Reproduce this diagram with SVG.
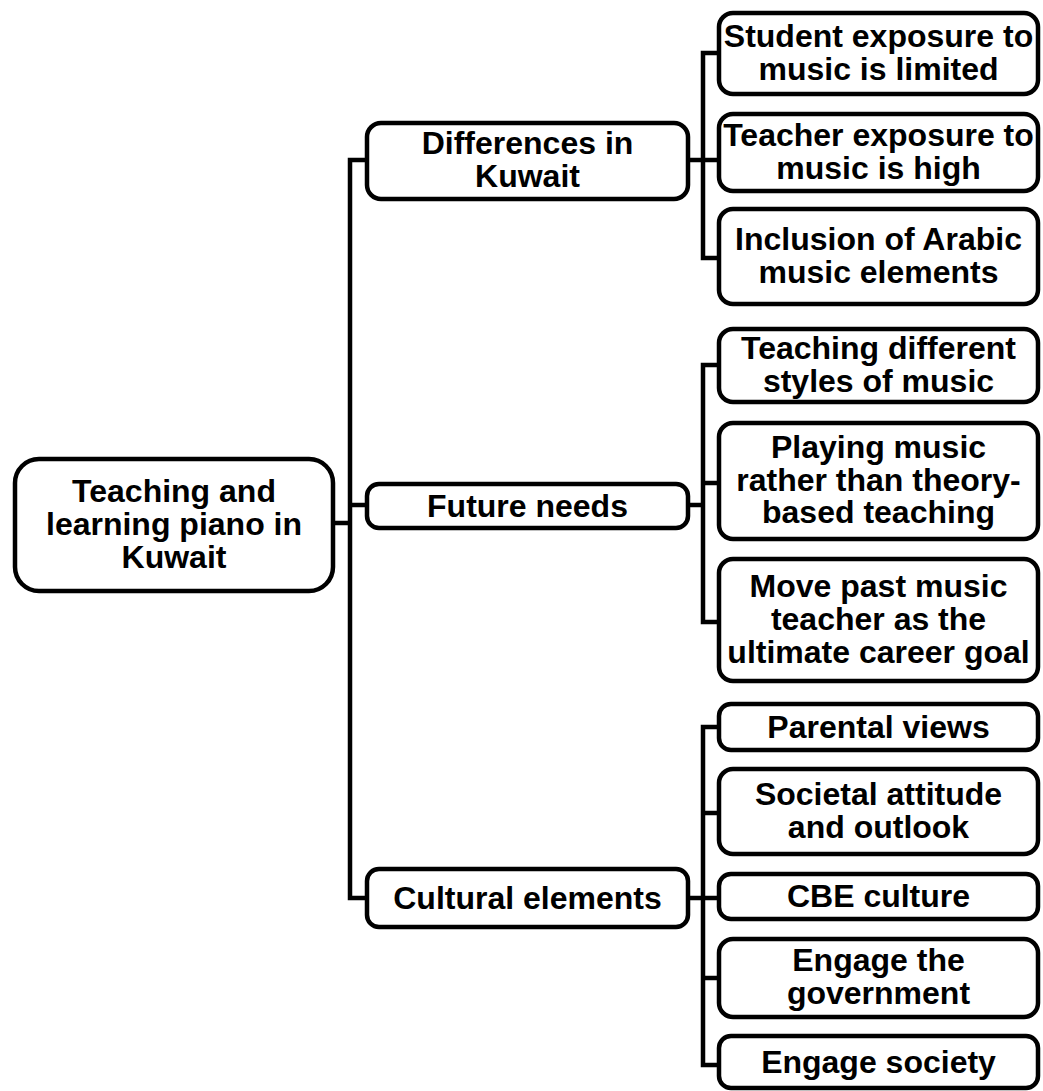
<svg xmlns="http://www.w3.org/2000/svg" width="1043" height="1091" viewBox="0 0 1043 1091">
  <style>
    .box { fill: #ffffff; stroke: #000000; stroke-width: 4.5; }
    .link { fill: none; stroke: #000000; stroke-width: 4.5; stroke-linejoin: miter; }
    text { font-family: "Liberation Sans", Arial, sans-serif; font-weight: bold; font-size: 32px; fill: #000000; text-anchor: middle; }
  </style>
  <rect width="1043" height="1091" fill="#ffffff"/>

  <!-- connectors -->
  <g id="connectors">
    <path class="link" d="M333 523 H350"/>
    <path class="link" d="M367 160 H350 V898 H367"/>
    <path class="link" d="M350 505 H367"/>

    <path class="link" d="M688 160 H719"/>
    <path class="link" d="M719 53 H703 V258 H719"/>

    <path class="link" d="M688 505 H703"/>
    <path class="link" d="M719 365 H703 V622 H719"/>
    <path class="link" d="M703 483 H719"/>

    <path class="link" d="M688 898 H719"/>
    <path class="link" d="M719 727 H703 V1065 H719"/>
    <path class="link" d="M703 813 H719"/>
    <path class="link" d="M703 978 H719"/>
  </g>

  <!-- root -->
  <g id="root">
    <rect class="box" x="15" y="459" width="318" height="132" rx="24"/>
    <text x="174" y="502">Teaching and</text>
    <text x="174" y="535">learning piano in</text>
    <text x="174" y="568">Kuwait</text>
  </g>

  <!-- first level -->
  <g id="differences">
    <rect class="box" x="367" y="123" width="321" height="76" rx="14"/>
    <text x="527.5" y="154">Differences in</text>
    <text x="527.5" y="187">Kuwait</text>
  </g>
  <g id="future">
    <rect class="box" x="367" y="484" width="321" height="44" rx="12"/>
    <text x="527.5" y="517">Future needs</text>
  </g>
  <g id="cultural">
    <rect class="box" x="367" y="869" width="321" height="58" rx="12"/>
    <text x="527.5" y="909">Cultural elements</text>
  </g>

  <!-- differences in Kuwait -->
  <g id="student-exposure">
    <rect class="box" x="719" y="13" width="319" height="81" rx="14"/>
    <text x="878.5" y="47">Student exposure to</text>
    <text x="878.5" y="80">music is limited</text>
  </g>
  <g id="teacher-exposure">
    <rect class="box" x="719" y="114" width="319" height="77" rx="14"/>
    <text x="878.5" y="146">Teacher exposure to</text>
    <text x="878.5" y="179">music is high</text>
  </g>
  <g id="arabic-elements">
    <rect class="box" x="719" y="209" width="319" height="95" rx="14"/>
    <text x="878.5" y="250">Inclusion of Arabic</text>
    <text x="878.5" y="283">music elements</text>
  </g>

  <!-- future needs -->
  <g id="styles">
    <rect class="box" x="719" y="329" width="319" height="73" rx="14"/>
    <text x="878.5" y="359">Teaching different</text>
    <text x="878.5" y="392">styles of music</text>
  </g>
  <g id="playing">
    <rect class="box" x="719" y="423" width="319" height="116" rx="14"/>
    <text x="878.5" y="458">Playing music</text>
    <text x="878.5" y="491">rather than theory-</text>
    <text x="878.5" y="523">based teaching</text>
  </g>
  <g id="career">
    <rect class="box" x="719" y="559" width="319" height="122" rx="14"/>
    <text x="878.5" y="597">Move past music</text>
    <text x="878.5" y="630">teacher as the</text>
    <text x="878.5" y="663">ultimate career goal</text>
  </g>

  <!-- cultural elements -->
  <g id="parental">
    <rect class="box" x="719" y="704" width="319" height="46" rx="12"/>
    <text x="878.5" y="738">Parental views</text>
  </g>
  <g id="societal">
    <rect class="box" x="719" y="769" width="319" height="85" rx="14"/>
    <text x="878.5" y="805">Societal attitude</text>
    <text x="878.5" y="838">and outlook</text>
  </g>
  <g id="cbe">
    <rect class="box" x="719" y="874" width="319" height="45" rx="12"/>
    <text x="878.5" y="907">CBE culture</text>
  </g>
  <g id="government">
    <rect class="box" x="719" y="939" width="319" height="78" rx="14"/>
    <text x="878.5" y="971">Engage the</text>
    <text x="878.5" y="1004">government</text>
  </g>
  <g id="society">
    <rect class="box" x="719" y="1036" width="319" height="52" rx="12"/>
    <text x="878.5" y="1073">Engage society</text>
  </g>
</svg>
